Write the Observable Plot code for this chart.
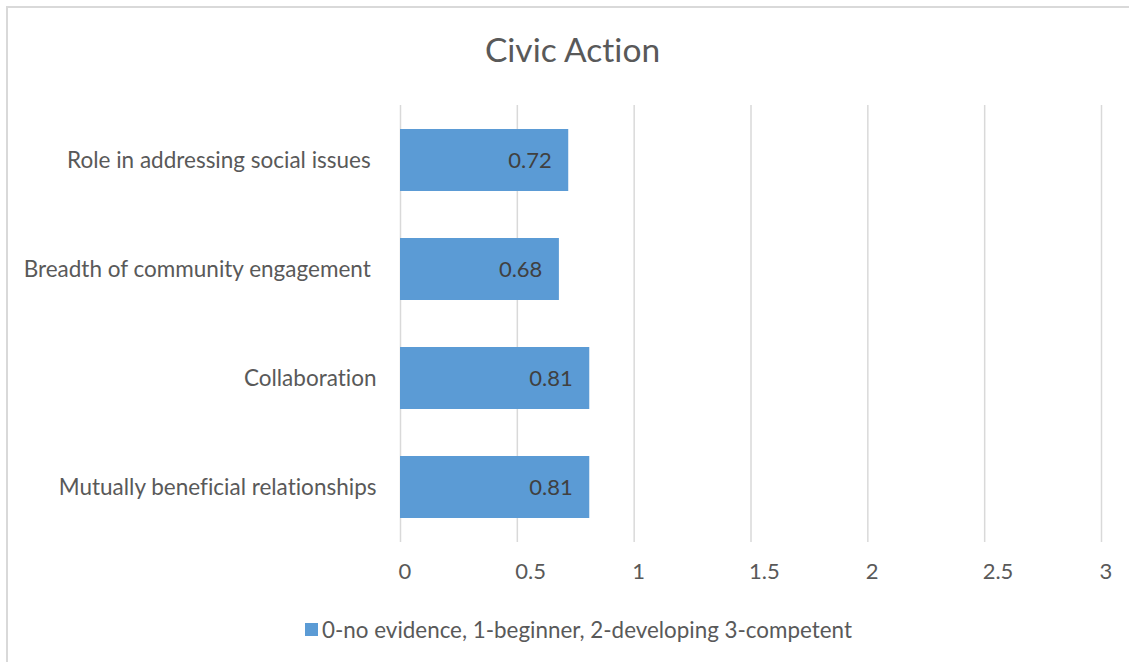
<!DOCTYPE html>
<html>
<head>
<meta charset="utf-8">
<script src="https://cdn.jsdelivr.net/npm/d3@7"></script>
<script src="https://cdn.jsdelivr.net/npm/@observablehq/plot@0.6"></script>
<style>
  html, body { margin: 0; padding: 0; background: #fff; overflow: hidden; }
  #frame { position: relative; width: 1129px; height: 662px; font-family: Lato, "Open Sans", sans-serif; color: #595959; font-variant-ligatures: none; }
  #frame svg text { font-variant-ligatures: none; }
  #border { position: absolute; left: 6px; top: 6px; right: -10px; bottom: -10px; border-left: 2px solid #d9d9d9; border-top: 2px solid #d9d9d9; }
  #title { position: absolute; left: 0; top: 0; width: 1129px; height: 90px; text-align: center; font-size: 33.5px; line-height: 34px; padding-left: 16px; box-sizing: border-box; }
  #title span { position: relative; top: 32px; }
  #chart { position: absolute; left: 0; top: 90px; }
  #legend { position: absolute; left: 0; top: 598px; width: 1129px; height: 62px; display: flex; justify-content: center; align-items: center; font-size: 22.4px; padding-left: 28px; box-sizing: border-box; }
  #legend .sw { width: 13px; height: 13px; background: #5b9bd5; margin-right: 4px; }
</style>
</head>
<body>
<div id="frame">
  <div id="border"></div>
  <div id="title"><span>Civic Action</span></div>
  <div id="chart"></div>
  <div id="legend"><div class="sw"></div><span id="legendText"></span></div>
</div>
<script>
const categories = [
  "Role in addressing social issues ",
  "Breadth of community engagement ",
  "Collaboration",
  "Mutually beneficial relationships"
];
const values = [0.72, 0.68, 0.81, 0.81];
const xTicks = [0, 0.5, 1, 1.5, 2, 2.5, 3];
const xTickLabels = ["0", "0.5", "1", "1.5", "2", "2.5", "3"];
const seriesName = "0-no evidence, 1-beginner, 2-developing 3-competent";

const data = categories.map((c, i) => ({category: c, value: values[i]}));

document.getElementById("legendText").textContent = seriesName;

const plot = Plot.plot({
  width: 1129,
  height: 510,
  marginTop: 15,
  marginBottom: 58,
  marginLeft: 400,
  marginRight: 28,
  style: { fontFamily: "Lato, 'Open Sans', sans-serif", color: "#595959", background: "transparent" },
  x: { domain: [0, 3] },
  y: { domain: categories, paddingInner: 0.43, paddingOuter: 0.215 },
  marks: [
    Plot.ruleX(xTicks, { stroke: "#d9d9d9", strokeWidth: 1.5 }),
    Plot.barX(data, { x: "value", y: "category", fill: "#5b9bd5" }),
    Plot.text(data, {
      x: "value", y: "category",
      text: d => d.value.toFixed(2),
      textAnchor: "end", dx: -17, fill: "#404040", fontSize: 22
    }),
    Plot.axisX({
      ticks: xTicks, tickSize: 0, tickPadding: 21,
      tickFormat: (d, i) => xTickLabels[xTicks.indexOf(d)],
      textAnchor: "start", dx: -2, fontSize: 22, fill: "#595959", label: null
    }),
    Plot.axisY({
      tickSize: 0, tickPadding: 24, fontSize: 22.5, fill: "#595959", label: null,
      tickFormat: d => d.replace(/ $/, "\u00a0")
    })
  ]
});
document.getElementById("chart").appendChild(plot);
</script>
</body>
</html>
